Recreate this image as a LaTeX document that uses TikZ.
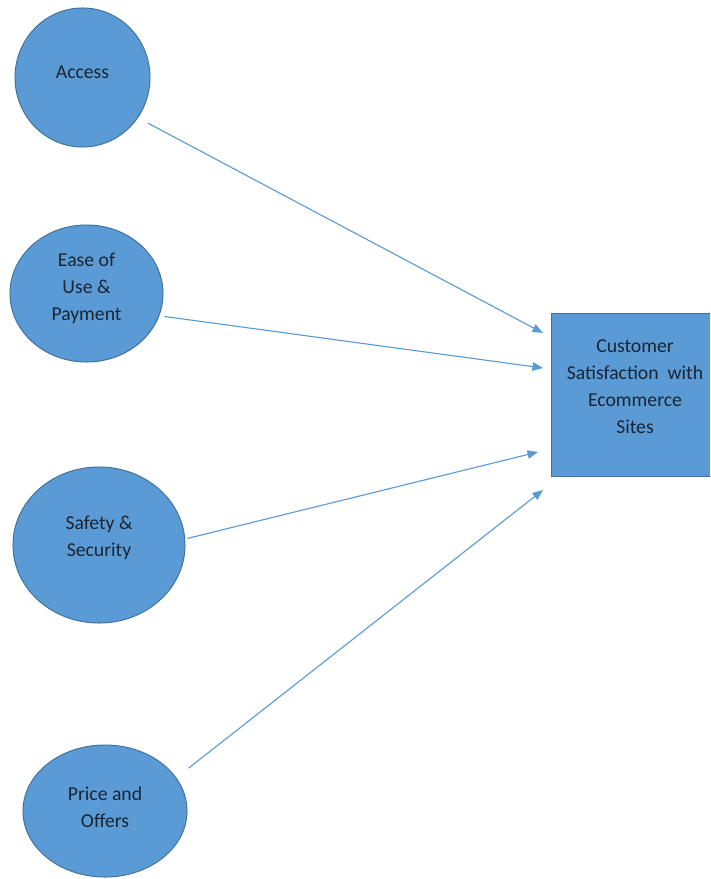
\documentclass[tikz,border=0pt]{standalone}
\usepackage{fontspec}
\setmainfont{Carlito}
\usetikzlibrary{shapes.geometric,arrows.meta}
\definecolor{wordblue}{HTML}{5B9BD5}
\definecolor{wordedge}{HTML}{41719C}
\definecolor{inktext}{HTML}{1A2433}

\begin{document}
\begin{tikzpicture}[
    x=0.025cm, y=-0.025cm,
    font=\fontsize{14}{19.2}\selectfont,
    >={Triangle[length=7.5pt,width=6pt]},
    factor/.style={ellipse, draw=wordedge, fill=wordblue, line width=0.7pt, inner sep=0pt},
    outcome/.style={rectangle, draw=wordedge, fill=wordblue, line width=0.7pt,
      minimum width=4.15cm, minimum height=4.05cm, inner sep=0pt},
    txt/.style={text=inktext, align=center},
    link/.style={->, draw=wordblue, line width=0.8pt}
  ]
  \useasboundingbox (0,0) rectangle (710,879);
  \clip (0,0) rectangle (710,879);

  % factors
  \node[factor, minimum width=3.375cm, minimum height=3.475cm,
    label={[txt, yshift=3.5pt]center:Access}] (access) at (82.5,77.5) {};
  \node[factor, minimum width=3.825cm, minimum height=3.425cm,
    label={[txt, yshift=3.5pt]center:{Ease of\\Use \&\\Payment}}] (ease) at (86.5,293.5) {};
  \node[factor, minimum width=4.3cm, minimum height=3.9cm,
    label={[txt, yshift=5pt]center:{Safety \&\\Security}}] (safety) at (99,545) {};
  \node[factor, minimum width=4.1cm, minimum height=3.3cm,
    label={[txt, yshift=3pt]center:{Price and\\Offers}}] (price) at (105,811) {};

  % outcome box
  \node[outcome, label={[txt, yshift=6pt]center:{Customer\\Satisfaction\ \ with\\Ecommerce\\Sites}}]
    (sat) at (635,395) {};

  % arrow tips in front of the box
  \coordinate (inA) at (543,333);
  \coordinate (inB) at (543,368);
  \coordinate (inC) at (538,452);
  \coordinate (inD) at (543,490);

  % links (start a little off the circles)
  \draw[link, shorten <=8pt] (access.-36) -- (inA);
  \draw[link, shorten <=3.5pt] (ease.-17) -- (inB);
  \draw[link, shorten <=1.5pt] (safety.4) -- (inC);
  \draw[link, shorten <=11pt] (price.25) -- (inD);
\end{tikzpicture}
\end{document}
